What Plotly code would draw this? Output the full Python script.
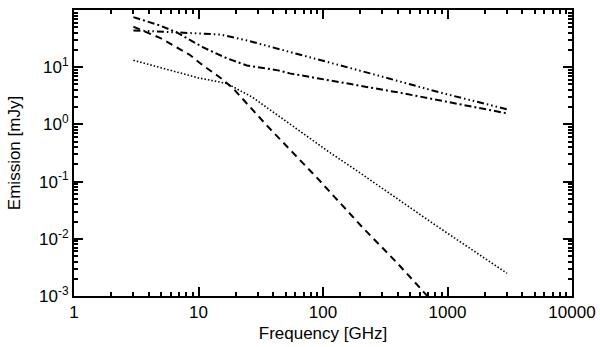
import plotly.graph_objects as go
import numpy as np

# values (frequency in GHz, emission in mJy)
freq_dashdot = [3, 4.9, 6.7, 10.9, 16.9, 24.5, 43.5, 54, 439, 3000]
emis_dashdot = [75, 53.6, 40.5, 22.2, 14.3, 10.7, 8.8, 7.8, 3.5, 1.56]

freq_dash3dot = [3, 6.7, 14.9, 24.5, 42.7, 54, 239, 920, 3000]
emis_dash3dot = [44, 40.5, 37.3, 29.4, 21.5, 18.5, 7.8, 3.5, 1.84]

freq_dash = [3, 5, 8.5, 10.7, 14.9, 18.9, 35.5, 91, 209, 393, 624, 700]
emis_dash = [51, 32, 16.5, 11, 6.6, 4.3, 0.95, 0.112, 0.0156, 0.0038, 0.00127, 0.00096]

freq_dot = [3, 4.9, 10, 16.9, 27, 114, 187, 766, 1928, 3000]
emis_dot = [13.2, 10, 6.5, 5.2, 3.0, 0.32, 0.155, 0.0185, 0.0047, 0.0025]

x_ticks = [1, 10, 100, 1000, 10000]
x_labels = ["1", "10", "100", "1000", "10000"]
y_ticks = [1e-3, 1e-2, 1e-1, 1, 10, 100]
y_labels = ["10<sup>-3</sup>", "10<sup>-2</sup>", "10<sup>-1</sup>",
            "10<sup>0</sup>", "10<sup>1</sup>", "10<sup>2</sup>"]

# minor tick positions 2..9 per decade
x_minor = [k * 10.0 ** d for d in range(0, 4) for k in range(2, 10)]
y_minor = [k * 10.0 ** d for d in range(-3, 2) for k in range(2, 10)]

fig = go.Figure()
fig.add_trace(go.Scatter(x=freq_dashdot, y=emis_dashdot, mode="lines",
                         line=dict(color="black", width=2, dash="7px,3px,2px,3px")))
fig.add_trace(go.Scatter(x=freq_dash3dot, y=emis_dash3dot, mode="lines",
                         line=dict(color="black", width=2,
                                   dash="7px,3px,1.5px,3px,1.5px,3px,1.5px,3px")))
fig.add_trace(go.Scatter(x=freq_dash, y=emis_dash, mode="lines",
                         line=dict(color="black", width=2, dash="7px,5px")))
fig.add_trace(go.Scatter(x=freq_dot, y=emis_dot, mode="lines",
                         line=dict(color="black", width=1.6, dash="1.5px,2px")))

axis_common = dict(
    showgrid=False, zeroline=False, showline=True, linecolor="black", linewidth=2,
    mirror="allticks", ticks="inside", ticklen=9, tickwidth=1.5, tickcolor="black",
    tickfont=dict(size=17, color="black"), automargin=False,
)

fig.update_xaxes(
    type="log", range=[0, 4], tickmode="array", tickvals=x_ticks, ticktext=x_labels,
    title=dict(text="Frequency [GHz]", font=dict(size=17, color="black"), standoff=6),
    minor=dict(tickmode="array", tickvals=x_minor, ticks="inside", ticklen=4,
               tickwidth=1.5, tickcolor="black", showgrid=False),
    **axis_common,
)
fig.update_yaxes(
    type="log", range=[-3, 2], tickmode="array", tickvals=y_ticks, ticktext=y_labels,
    title=dict(text="Emission [mJy]", font=dict(size=17, color="black"), standoff=14),
    minor=dict(tickmode="array", tickvals=y_minor, ticks="inside", ticklen=4,
               tickwidth=1.5, tickcolor="black", showgrid=False),
    **axis_common,
)

fig.update_layout(
    width=600, height=347,
    margin=dict(l=74, r=28, t=10, b=51),
    paper_bgcolor="white", plot_bgcolor="white",
    font=dict(family="Liberation Sans, Arial, Helvetica", color="black"),
    showlegend=False,
)

fig.write_html("out.html", config={"displayModeBar": False})

# drop the default page margin so the figure sits at the window's corner
with open("out.html", encoding="utf-8") as f:
    page = f.read()
page = page.replace("<body>", '<body style="margin:0;overflow:hidden">', 1)
with open("out.html", "w", encoding="utf-8") as f:
    f.write(page)
